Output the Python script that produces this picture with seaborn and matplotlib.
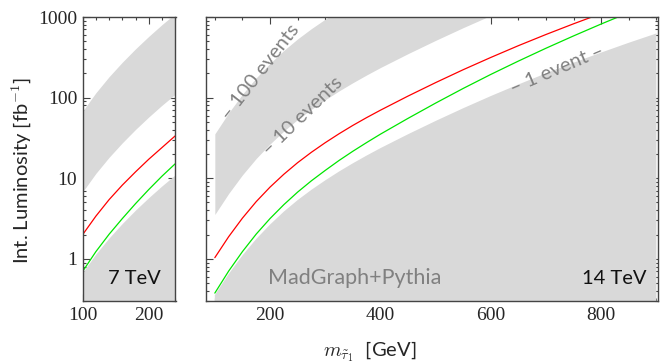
import numpy as np
import pandas as pd
import matplotlib
matplotlib.use("Agg")
import matplotlib.pyplot as plt
from matplotlib.ticker import FixedLocator, LogLocator, NullFormatter, MultipleLocator
import seaborn as sns

# ---------------- data ----------------
# 7 TeV panel
m7 = [100, 120, 140, 160, 180, 200, 220, 240]
one_event_7 = [0.68, 1.15, 1.82, 2.75, 4.03, 5.75, 8.04, 11.0]
red_7 = [2.0, 3.39, 5.43, 8.22, 12.0, 17.2, 24.0, 33.5]
green_7 = [0.700, 1.23, 2.02, 3.16, 4.84, 7.24, 10.6, 15.1]

# 14 TeV panel
m14 = [100, 125, 150, 175, 200, 225, 250, 275, 300, 325, 350, 375, 400,
       450, 500, 550, 600, 650, 700, 750, 800, 850, 900]
one_event_14 = [0.355, 0.646, 1.10, 1.76, 2.66, 3.85, 5.35, 7.18, 9.40, 12.1,
                15.3, 19.1, 23.6, 35.1, 51.3, 73.8, 104.5, 145.5, 200, 271,
                362, 479, 625]
m14_red = m14[:21]
red_14 = [1.035, 1.88, 3.20, 5.13, 7.76, 11.2, 15.6, 21.0, 27.6, 35.6, 45.2,
          56.5, 69.8, 104.5, 153.5, 222, 315, 441, 607, 824, 1104]
m14_green = m14[:22]
green_14 = [0.376, 0.704, 1.23, 2.03, 3.16, 4.70, 6.73, 9.30, 12.5, 16.6,
            21.6, 27.7, 35.2, 55.3, 85.5, 130, 194, 284, 410, 583, 819, 1135]

y_ticks = [1, 10, 100, 1000]
y_ticklabels = ["1", "10", "100", "1000"]

# ---------------- style ----------------
sns.set_theme(style="ticks")
plt.rcParams["font.family"] = ["Lato", "DejaVu Sans"]
plt.rcParams["mathtext.fontset"] = "cm"
GRAY = "#d9d9d9"
FRAME = "#444444"
SERIF = ["Liberation Serif", "DejaVu Serif"]
TICK_FS = 14

fig = plt.figure(figsize=(6.64, 3.64), dpi=100)
H = 364.0
W = 664.0
ax7 = fig.add_axes([82.7 / W, (H - 301) / H, 92.8 / W, 284 / H])
ax14 = fig.add_axes([206 / W, (H - 301) / H, 451.5 / W, 284 / H])


def draw_panel(ax, m, one, mr, red, mg, green):
    one = np.asarray(one)
    ax.fill_between(m, 1e-3, one, color=GRAY, lw=0)
    ax.fill_between(m, 10 * one, 100 * one, color=GRAY, lw=0)
    df_r = pd.DataFrame({"m": mr, "L": red})
    df_g = pd.DataFrame({"m": mg, "L": green})
    sns.lineplot(data=df_r, x="m", y="L", ax=ax, color="#ff0000", lw=0.9)
    sns.lineplot(data=df_g, x="m", y="L", ax=ax, color="#00e600", lw=0.9)
    ax.set_yscale("log")
    ax.set_ylim(0.3, 1000)
    ax.set_xlabel("")
    ax.set_ylabel("")
    for s in ax.spines.values():
        s.set_color(FRAME)
        s.set_linewidth(1.0)
    ax.yaxis.set_major_locator(FixedLocator(y_ticks))
    ax.yaxis.set_minor_locator(LogLocator(base=10, subs=np.arange(2, 10)))
    ax.yaxis.set_minor_formatter(NullFormatter())
    ax.tick_params(which="both", direction="in", top=True, right=True,
                   color=FRAME, width=0.8)
    ax.tick_params(which="major", length=5)
    ax.tick_params(which="minor", length=2.5)


draw_panel(ax7, m7, one_event_7, m7, red_7, m7, green_7)
ax7.set_xlim(100, 240.5)
ax7.set_xticks([100, 200])
ax7.xaxis.set_minor_locator(MultipleLocator(20))
ax7.set_yticks(y_ticks, labels=y_ticklabels)
ax7.tick_params(axis="both", labelsize=TICK_FS, pad=4)
for lab in ax7.get_xticklabels() + ax7.get_yticklabels():
    lab.set_family(SERIF)

draw_panel(ax14, m14, one_event_14, m14_red, red_14, m14_green, green_14)
ax14.set_xlim(84, 902)
ax14.set_xticks([200, 400, 600, 800])
ax14.xaxis.set_minor_locator(MultipleLocator(50))
ax14.tick_params(axis="y", labelleft=False)
ax14.tick_params(axis="x", labelsize=TICK_FS, pad=4)
for lab in ax14.get_xticklabels():
    lab.set_family(SERIF)

# texts
ax7.text(0.84, 0.08, "7 TeV", transform=ax7.transAxes, ha="right",
         va="center", fontsize=14.5, color="#111111")
ax14.text(0.975, 0.08, "14 TeV", transform=ax14.transAxes, ha="right",
          va="center", fontsize=14.5, color="#111111")
ax14.text(0.33, 0.08, "MadGraph+Pythia", transform=ax14.transAxes,
          ha="center", va="center", fontsize=15.5, color="#808080")

lbl_kw = dict(ha="center", va="center", fontsize=14.5, color="#808080",
              rotation_mode="anchor")
ax14.text(182, 209, "– 100 events", rotation=52, **lbl_kw)
ax14.text(258, 59, "– 10 events", rotation=44, **lbl_kw)
ax14.text(720, 227, "– 1 event –", rotation=23, **lbl_kw)

fig.text(22 / W, 1 - 171 / H, r"Int. Luminosity [fb$^{\mathsf{-1}}$]",
         rotation=90, ha="center", va="center", fontsize=14.5)
fig.text(370 / W, 1 - 352 / H, r"$m_{\tilde{\tau}_1}$  [GeV]",
         ha="center", va="center", fontsize=14.5)

fig.savefig("out.png", dpi=100)
